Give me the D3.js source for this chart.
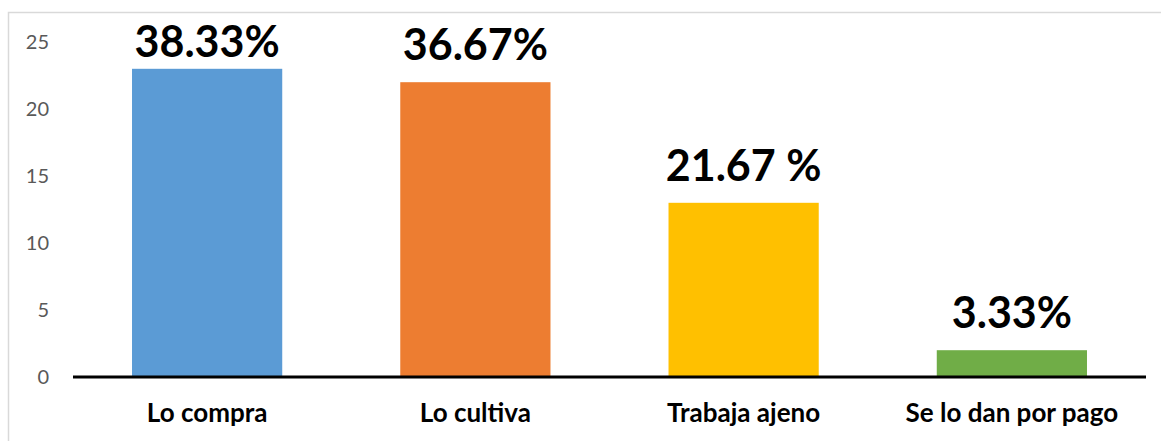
<!DOCTYPE html>
<html>
<head>
<meta charset="utf-8">
<script src="https://cdn.jsdelivr.net/npm/d3@7"></script>
<style>
  body { margin: 0; background: #fff; }
  text { font-family: Lato, "Open Sans", sans-serif; }
</style>
</head>
<body>
<div id="chart"></div>
<script>
// data
var categories = ["Lo compra", "Lo cultiva", "Trabaja ajeno", "Se lo dan por pago"];
var values = [23, 22, 13, 2];
var pctLabels = ["38.33%", "36.67%", "21.67 %", "3.33%"];
var colors = ["#5b9bd5", "#ed7d31", "#ffc000", "#70ad47"];
var yTicks = [0, 5, 10, 15, 20, 25];

var svgWidth = 1161;
var svgHeight = 441;

var margin = { top: 42, right: 15, bottom: 64, left: 73 };
var width = svgWidth - margin.left - margin.right;
var height = svgHeight - margin.top - margin.bottom;

var svg = d3.select("#chart")
  .append("svg")
  .attr("width", svgWidth)
  .attr("height", svgHeight);

// chart frame
svg.append("rect")
  .attr("x", 8.5)
  .attr("y", 12.5)
  .attr("width", svgWidth + 10)
  .attr("height", svgHeight + 10)
  .attr("fill", "none")
  .attr("stroke", "#d9d9d9")
  .attr("stroke-width", 1.5);

var chart = svg.append("g")
  .attr("transform", `translate(${margin.left}, ${margin.top})`);

var x = d3.scaleBand()
  .domain(categories)
  .range([0, width])
  .paddingInner(0.44)
  .paddingOuter(0.22);

var y = d3.scaleLinear()
  .domain([0, 25])
  .range([height, 0]);

// y axis labels only (no line, no ticks)
var leftAxis = d3.axisLeft(y).tickValues(yTicks).tickSize(0).tickPadding(0);
var yg = chart.append("g")
  .attr("transform", "translate(-24,0)")
  .call(leftAxis);
yg.select(".domain").remove();
yg.selectAll("text")
  .attr("text-anchor", "end")
  .attr("fill", "#595959")
  .style("font-size", "20px")
  .style("font-family", "Lato, sans-serif");

// bars
chart.selectAll("rect.bar")
  .data(values)
  .enter()
  .append("rect")
  .attr("class", "bar")
  .attr("x", (d, i) => x(categories[i]))
  .attr("y", d => y(d))
  .attr("width", x.bandwidth())
  .attr("height", d => height - y(d))
  .attr("fill", (d, i) => colors[i]);

// baseline
chart.append("line")
  .attr("x1", 0)
  .attr("x2", width)
  .attr("y1", height)
  .attr("y2", height)
  .attr("stroke", "#000")
  .attr("stroke-width", 3);

// category labels
chart.selectAll("text.cat")
  .data(categories)
  .enter()
  .append("text")
  .attr("class", "cat")
  .attr("x", d => x(d) + x.bandwidth() / 2)
  .attr("y", height + 45)
  .attr("text-anchor", "middle")
  .style("font-size", "26px")
  .style("font-weight", "bold")
  .attr("fill", "#000")
  .text(d => d);

// value labels (kept inside the plot area at the top)
chart.selectAll("text.val")
  .data(values)
  .enter()
  .append("text")
  .attr("class", "val")
  .attr("x", (d, i) => x(categories[i]) + x.bandwidth() / 2)
  .attr("y", d => Math.max(y(d) - 22, 15))
  .attr("text-anchor", "middle")
  .style("font-size", "43px")
  .style("font-weight", "bold")
  .attr("fill", "#000")
  .text((d, i) => pctLabels[i]);
</script>
</body>
</html>
